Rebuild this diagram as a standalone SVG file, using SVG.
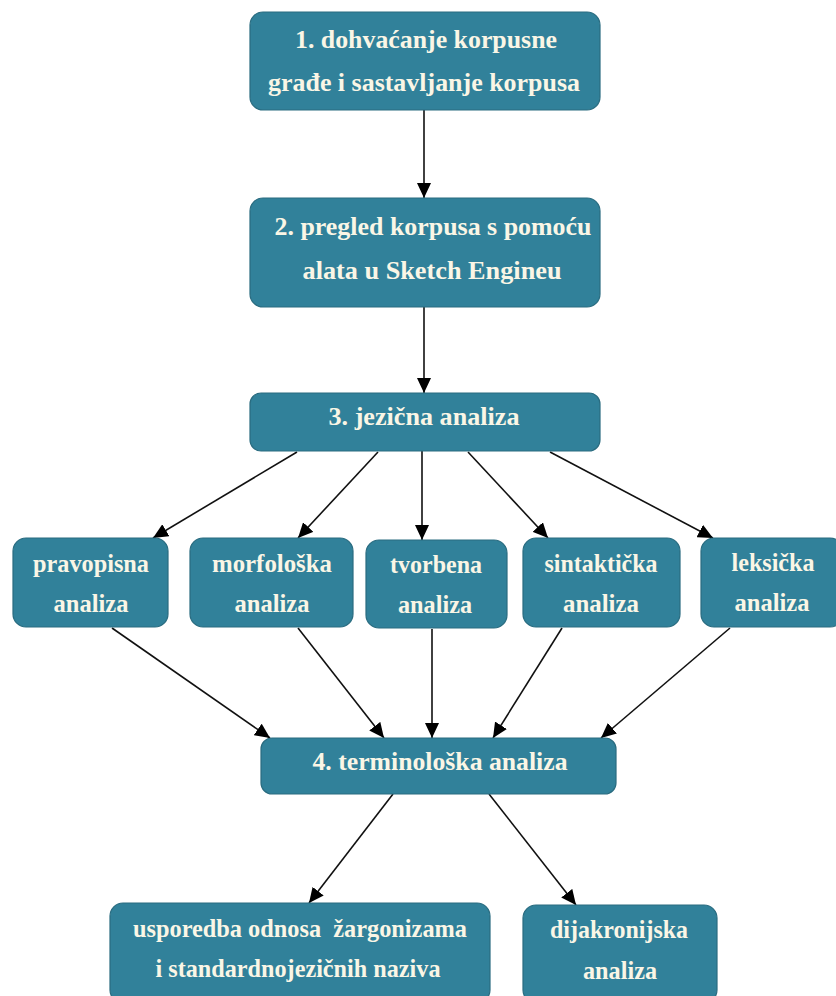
<svg xmlns="http://www.w3.org/2000/svg" width="836" height="996" viewBox="0 0 836 996">
<defs>
<style>
.box{fill:#31819a;stroke:#2a6c80;stroke-width:1.2}
.t{font-family:"Liberation Serif","Times New Roman",serif;font-weight:bold;font-size:25px;fill:#faf6e6;text-anchor:middle;white-space:pre}
.c{stroke:#111;stroke-width:1.6;fill:none;marker-end:url(#ah)}
</style>
<marker id="ah" markerUnits="userSpaceOnUse" markerWidth="16" markerHeight="14" refX="15" refY="7" orient="auto">
<path d="M0,0 L15,7 L0,14 z" fill="#000"/>
</marker>
</defs>
<rect width="836" height="996" fill="#fff"/>
<g id="connectors">
<line class="c" x1="424" y1="110" x2="424" y2="198"/>
<line class="c" x1="424" y1="307" x2="424" y2="393"/>
<line class="c" x1="297" y1="452" x2="153" y2="538"/>
<line class="c" x1="378" y1="452" x2="298" y2="538"/>
<line class="c" x1="422" y1="451" x2="422" y2="540"/>
<line class="c" x1="468" y1="452" x2="548" y2="538"/>
<line class="c" x1="550" y1="452" x2="713" y2="538"/>
<line class="c" x1="112" y1="628" x2="270" y2="738"/>
<line class="c" x1="298" y1="628" x2="384" y2="738"/>
<line class="c" x1="432" y1="629" x2="432" y2="738"/>
<line class="c" x1="562" y1="628" x2="493" y2="738"/>
<line class="c" x1="730" y1="628" x2="601" y2="738"/>
<line class="c" x1="393" y1="794" x2="309" y2="903"/>
<line class="c" x1="489" y1="794" x2="576" y2="905"/>
</g>
<g id="n1"><rect class="box" x="250" y="12" width="350" height="98" rx="13"/>
<text class="t" x="426" y="48" textLength="262" lengthAdjust="spacingAndGlyphs">1. dohvaćanje korpusne</text>
<text class="t" x="424" y="91" textLength="312" lengthAdjust="spacingAndGlyphs">građe i sastavljanje korpusa</text></g>
<g id="n2"><rect class="box" x="250" y="198" width="350" height="109" rx="13"/>
<text class="t" x="433" y="235" textLength="317" lengthAdjust="spacingAndGlyphs">2. pregled korpusa s pomoću</text>
<text class="t" x="432" y="279" textLength="259" lengthAdjust="spacingAndGlyphs">alata u Sketch Engineu</text></g>
<g id="n3"><rect class="box" x="250" y="393" width="350" height="58" rx="11"/>
<text class="t" x="424" y="425" textLength="191" lengthAdjust="spacingAndGlyphs">3. jezična analiza</text></g>
<g id="n3a"><rect class="box" x="13" y="538" width="155" height="89" rx="13"/>
<text class="t" x="91" y="572" textLength="116" lengthAdjust="spacingAndGlyphs">pravopisna</text>
<text class="t" x="91" y="612" textLength="75" lengthAdjust="spacingAndGlyphs">analiza</text></g>
<g id="n3b"><rect class="box" x="190" y="538" width="163" height="89" rx="13"/>
<text class="t" x="272" y="572" textLength="120" lengthAdjust="spacingAndGlyphs">morfološka</text>
<text class="t" x="272" y="612" textLength="75" lengthAdjust="spacingAndGlyphs">analiza</text></g>
<g id="n3c"><rect class="box" x="366" y="540" width="141" height="88" rx="13"/>
<text class="t" x="436" y="573" textLength="92" lengthAdjust="spacingAndGlyphs">tvorbena</text>
<text class="t" x="435" y="613" textLength="74" lengthAdjust="spacingAndGlyphs">analiza</text></g>
<g id="n3d"><rect class="box" x="523" y="538" width="157" height="89" rx="13"/>
<text class="t" x="601" y="572" textLength="113" lengthAdjust="spacingAndGlyphs">sintaktička</text>
<text class="t" x="601" y="612" textLength="76" lengthAdjust="spacingAndGlyphs">analiza</text></g>
<g id="n3e"><rect class="box" x="701" y="538" width="142" height="89" rx="13"/>
<text class="t" x="773" y="571" textLength="83" lengthAdjust="spacingAndGlyphs">leksička</text>
<text class="t" x="772" y="611" textLength="75" lengthAdjust="spacingAndGlyphs">analiza</text></g>
<g id="n4"><rect class="box" x="261" y="738" width="355" height="56" rx="11"/>
<text class="t" x="440" y="770" textLength="255" lengthAdjust="spacingAndGlyphs">4. terminološka analiza</text></g>
<g id="n4a"><rect class="box" x="110" y="903" width="380" height="100" rx="13"/>
<text class="t" x="300" y="937" textLength="334" lengthAdjust="spacingAndGlyphs">usporedba odnosa  žargonizama</text>
<text class="t" x="298" y="977" textLength="285" lengthAdjust="spacingAndGlyphs">i standardnojezičnih naziva</text></g>
<g id="n4b"><rect class="box" x="523" y="905" width="194" height="98" rx="13"/>
<text class="t" x="619" y="938" textLength="138" lengthAdjust="spacingAndGlyphs">dijakronijska</text>
<text class="t" x="620" y="979" textLength="74" lengthAdjust="spacingAndGlyphs">analiza</text></g>
</svg>
